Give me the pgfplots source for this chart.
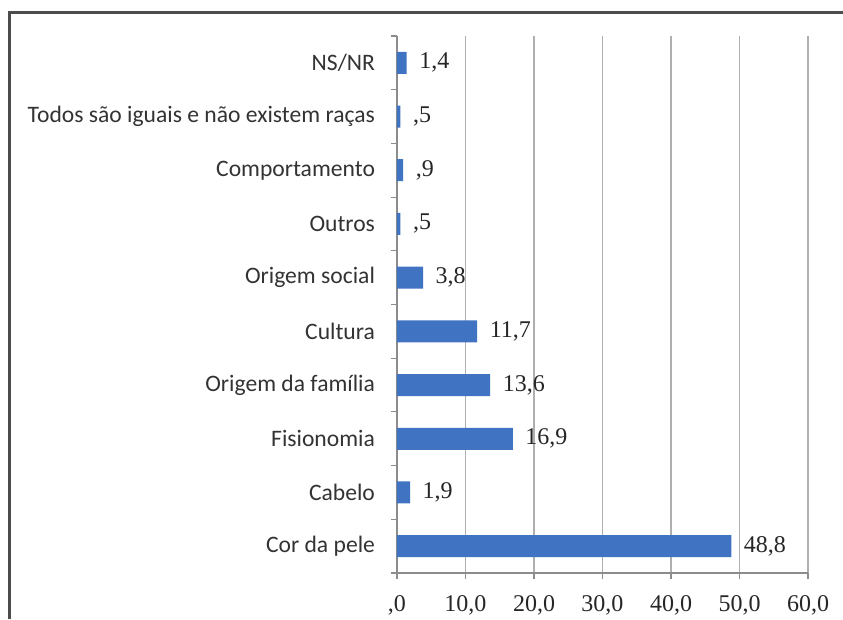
\documentclass[border=0pt]{standalone}
\usepackage{pgfplots}
\pgfplotsset{compat=1.18}
\usepackage{fontspec}
\setmainfont{Liberation Serif}
\newfontfamily\catfont{Carlito}
\definecolor{barblue}{RGB}{65,115,195}
\definecolor{gridgray}{RGB}{175,175,175}
\definecolor{axisgray}{RGB}{140,140,140}
\begin{document}
\begin{tikzpicture}
\path[use as bounding box] (0,0) rectangle (632.25pt,464.25pt);
\draw[color=black!70, line width=1.6pt] (7.125pt,0) -- (7.125pt,454.875pt) -- (632.25pt,454.875pt);
\begin{axis}[
  at={(297.75pt,34.5pt)}, anchor=south west,
  scale only axis, width=308.25pt, height=402.75pt,
  xmin=0, xmax=60, ymin=-0.5, ymax=9.5,
  axis x line=bottom, axis y line=left,
  axis line style={-, color=axisgray, line width=0.8pt},
  tick align=outside,
  major tick length=4.5pt,
  tick style={color=axisgray, line width=0.8pt},
  xtick={0,10,...,60},
  xticklabels={\mbox{,0},\mbox{10,0},\mbox{20,0},\mbox{30,0},\mbox{40,0},\mbox{50,0},\mbox{60,0}},
  xticklabel style={font=\fontsize{18}{21}\selectfont, text=black!85, yshift=-8.5pt},
  xmajorgrids, major grid style={color=gridgray, line width=0.8pt},
  ytick={-0.5,0.5,...,9.5},
  yticklabels={},
  extra y ticks={0,1,2,3,4,5,6,7,8,9},
  extra y tick labels={Cor da pele, Cabelo, Fisionomia, Origem da família, Cultura, Origem social, Outros, Comportamento, Todos são iguais e não existem raças, NS/NR},
  extra y tick style={major tick length=0pt, yticklabel style={font=\catfont\fontsize{17.7}{20}\selectfont, text=black!80, anchor=east, xshift=-13pt}},
  clip=false,
]
\addplot[xbar, bar width=16.5pt, fill=barblue, draw=none,
  nodes near coords, point meta=explicit symbolic,
  nodes near coords style={anchor=west, font=\fontsize{18}{21}\selectfont, text=black!85, xshift=6pt}]
  table[x=v, y=c, meta=lab] {
v c lab
48.8 0 48,8
1.9 1 1,9
16.9 2 16,9
13.6 3 13,6
11.7 4 11,7
3.8 5 3,8
0.5 6 ,5
0.9 7 ,9
0.5 8 ,5
1.4 9 1,4
};
\end{axis}
\end{tikzpicture}
\end{document}
